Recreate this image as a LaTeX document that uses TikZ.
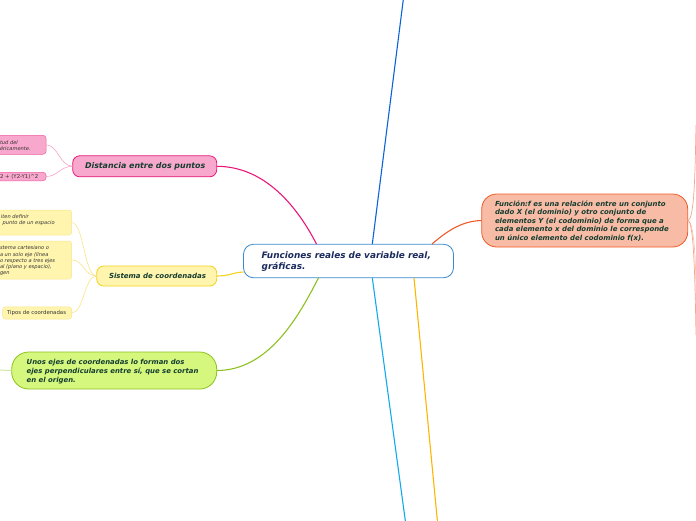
\documentclass[tikz,border=0pt]{standalone}
\usepackage{fontspec}
\setmainfont{DejaVu Sans}
\newfontfamily\vf{DejaVu Sans}
\begin{document}
\begin{tikzpicture}[x=1pt,y=-1pt,
  every node/.style={inner sep=0pt,outer sep=0pt},
  box/.style={draw,rounded corners=#1,line width=0.8pt},
  ttl/.style={anchor=west,align=left,font=\vf\bfseries\itshape},
  sm/.style={anchor=west,align=left,font=\vf\itshape\fontsize{5.1}{6.2}\selectfont,text=black!80},
  smup/.style={anchor=west,align=left,font=\vf\fontsize{5.4}{6}\selectfont,text=black!80}]
\definecolor{pinkF}{HTML}{F8A8CC}\definecolor{pinkB}{HTML}{E8187A}
\definecolor{yelF}{HTML}{FFF5AE}\definecolor{yelB}{HTML}{F2D320}\definecolor{yelL}{HTML}{F8E48A}
\definecolor{grnF}{HTML}{D5F77E}\definecolor{grnB}{HTML}{8CC21F}\definecolor{grnL}{HTML}{CFE6A6}
\definecolor{orgF}{HTML}{F8BCA6}\definecolor{orgB}{HTML}{F05A28}\definecolor{orgL}{HTML}{F9A58A}
\definecolor{ctrB}{HTML}{3A8AD0}\definecolor{navy}{HTML}{1A2A5C}\definecolor{dk}{HTML}{143C30}
\definecolor{blu}{HTML}{0A64D6}\definecolor{cya}{HTML}{12A9EE}\definecolor{amb}{HTML}{FFB400}
\useasboundingbox (0,0) rectangle (696,520);

% free ends
\coordinate (top) at (403.5,-2);
\coordinate (botc) at (405.5,522);
\coordinate (bota) at (437.5,522);
\coordinate (gl) at (-2,370);
\coordinate (fu1) at (696,125);
\coordinate (fu2) at (696,300);
\coordinate (fu3) at (696,335);

% central
\node[box=10pt,draw=ctrB,fill=white,minimum width=210,minimum height=33.5,anchor=west] (ctr) at (243.5,261) {};
\node[ttl,font=\vf\bfseries\itshape\fontsize{8.9}{11.6}\selectfont,text=navy] (ctr-t) at (261.7,261.5)
 {Funciones reales de variable real,\\gráficas.};

% main branches
\draw[blu,line width=1.1pt] (372.3,244) -- (top);
\draw[cya,line width=1.1pt] (372.3,277.8) -- (botc);
\draw[amb,line width=1.1pt] (414,277.8) -- (bota);

% Distancia
\node[box=7pt,draw=pinkB,fill=pinkF,minimum width=144,minimum height=21,anchor=west] (dist) at (72.7,166.3) {};
\node[ttl,font=\vf\bfseries\itshape\fontsize{7.9}{8}\selectfont,text=dk] (dist-t) at (85,166.6) {Distancia entre dos puntos};
\node[box=3pt,draw=pinkB!70,fill=pinkF,line width=0.5pt,minimum width=76,minimum height=19,anchor=east] (d1) at (46,144.8) {};
\node[sm] (d1-t) at (0,145.3) {tud del\\éricamente.};
\node[box=3pt,draw=pinkB!70,fill=pinkF,line width=0.5pt,minimum width=76,minimum height=8.5,anchor=east] (d2) at (46,176.5) {};
\node[smup] (d2-t) at (0,176.8) {2 + (Y2-Y1)\^{}2};
\draw[pinkB!45,line width=0.5pt] (dist.west) .. controls (60,166.3) and (58,145) .. (d1.east);
\draw[pinkB!45,line width=0.5pt] (dist.west) .. controls (60,166.3) and (58,176.5) .. (d2.east);
\draw[pinkB,line width=1.1pt] (dist.east) .. controls (268,166.3) and (300,212) .. (316.5,244);

% Sistema
\node[box=7pt,draw=yelB,fill=yelF,minimum width=120,minimum height=20,anchor=west] (sis) at (96.7,276) {};
\node[ttl,font=\vf\bfseries\itshape\fontsize{7}{8}\selectfont,text=dk] (sis-t) at (109,276.3) {Sistema de coordenadas};
\node[box=3pt,draw=yelL,fill=yelF,line width=0.5pt,minimum width=100,minimum height=25,anchor=east] (s1) at (71.7,222.5) {};
\node[sm] (s1-t) at (1,220.3) {iten definir\\ \ punto de un espacio};
\node[box=3pt,draw=yelL,fill=yelF,line width=0.5pt,minimum width=100,minimum height=38,anchor=east] (s2) at (71.7,260) {};
\node[sm] (s2-t) at (0,260.8) {stema cartesiano o\\a un solo eje (línea\\o respecto a tres ejes\\al (plano y espacio),\\gen};
\node[box=3pt,draw=yelL,fill=yelF,line width=0.5pt,minimum width=69,minimum height=12.3,anchor=east] (s3) at (71.7,312.9) {};
\node[smup] (s3-t) at (7,313.2) {Tipos de coordenadas};
\draw[yelL,line width=0.6pt] (sis.west) .. controls (84,276) and (84,223) .. (s1.east);
\draw[yelL,line width=0.6pt] (sis.west) .. controls (84,276) and (84,260) .. (s2.east);
\draw[yelL,line width=0.6pt] (sis.west) .. controls (84,276) and (84,313) .. (s3.east);
\draw[yelB,line width=1.1pt] (sis.east) .. controls (230,276) and (232,272.5) .. (243.5,272);

% green
\node[box=17pt,draw=grnB,fill=grnF,minimum width=205,minimum height=37,anchor=west] (grn) at (11.7,370.5) {};
\node[ttl,font=\vf\bfseries\itshape\fontsize{6.9}{9}\selectfont,text=dk] (grn-t) at (26.7,371.5)
 {Unos ejes de coordenadas lo forman dos\\ejes perpendiculares entre sí, que se cortan\\en el origen.};
\draw[grnL,line width=1pt] (grn.west) -- (gl);
\draw[grnB,line width=1.1pt] (grn.east) .. controls (268,370.5) and (298,318) .. (318.5,277.8);

% function
\node[box=15pt,draw=orgB,fill=orgF,minimum width=206,minimum height=53,anchor=west] (fun) at (481.7,220.5) {};
\node[ttl,font=\vf\bfseries\itshape\fontsize{6.95}{8.6}\selectfont,text=dk] (fun-t) at (495,221)
 {Función:f es una relación entre un conjunto\\dado X (el dominio) y otro conjunto de\\elementos Y (el codominio) de forma que a\\cada elemento x del dominio le corresponde\\un único elemento del codominio f(x).};
\draw[orgB,line width=1.1pt] (432,244) .. controls (445,233) and (460,221) .. (fun.west);
\draw[orgL,line width=0.7pt] (fun.east) .. controls (694,220) and (695,180) .. (fu1);
\draw[orgL!70,line width=0.6pt] (fun.east) .. controls (694,221) and (696,260) .. (fu2);
\draw[orgL,line width=0.7pt] (fun.east) .. controls (694,221) and (695,280) .. (fu3);
\end{tikzpicture}
\end{document}
